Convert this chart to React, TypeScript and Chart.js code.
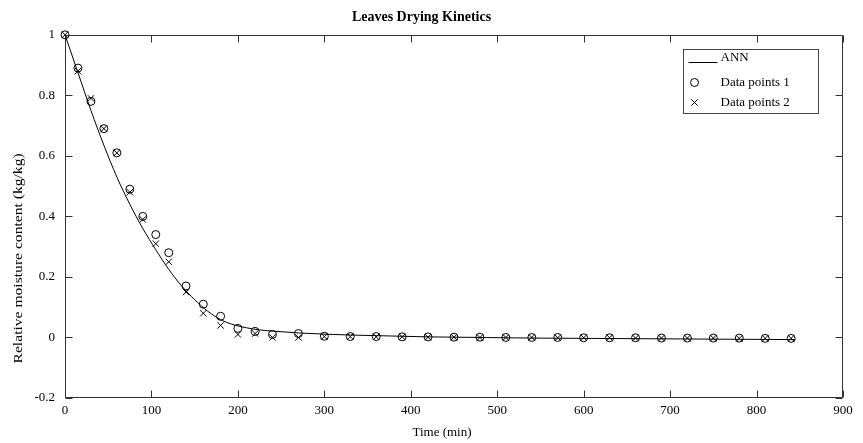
import { useEffect, useRef } from "react";
import { Chart, registerables } from "chart.js";

Chart.register(...registerables);

// Sampling times of the measured drying data (min)
const sampleTimes = [
  0, 15, 30, 45, 60, 75, 90, 105, 120, 140, 160, 180, 200, 220, 240, 270,
  300, 330, 360, 390, 420, 450, 480, 510, 540, 570, 600, 630, 660, 690, 720,
  750, 780, 810, 840,
];

// Relative moisture content, first replicate (kg/kg)
const dataPoints1 = [
  1.0, 0.89, 0.78, 0.69, 0.61, 0.49, 0.4, 0.34, 0.28, 0.17, 0.11, 0.07, 0.03,
  0.02, 0.01, 0.013, 0.004, 0.003, 0.003, 0.002, 0.002, 0.001, 0.001, 0.0,
  0.0, 0.0, -0.001, -0.001, -0.001, -0.002, -0.002, -0.002, -0.002, -0.003,
  -0.003,
];

// Relative moisture content, second replicate (kg/kg)
const dataPoints2 = [
  1.0, 0.88, 0.79, 0.69, 0.61, 0.48, 0.39, 0.31, 0.25, 0.15, 0.08, 0.04, 0.01,
  0.013, 0.0, 0.0, 0.003, 0.003, 0.002, 0.002, 0.001, 0.001, 0.0, 0.0, 0.0,
  -0.001, -0.001, -0.001, -0.002, -0.002, -0.002, -0.002, -0.003, -0.003,
  -0.003,
];

// Neural-network model prediction
const annTimes = [
  0, 15, 30, 45, 60, 75, 90, 105, 120, 135, 150, 165, 180, 195, 210, 225, 240,
  270, 300, 330, 360, 390, 420, 450, 480, 540, 600, 660, 720, 780, 845,
];
const annValues = [
  1.0, 0.875, 0.75, 0.635, 0.53, 0.44, 0.36, 0.29, 0.225, 0.17, 0.125, 0.087,
  0.059, 0.042, 0.032, 0.025, 0.021, 0.015, 0.011, 0.008, 0.006, 0.004, 0.002,
  0.001, 0.0, -0.002, -0.003, -0.004, -0.005, -0.006, -0.007,
];

const xTicks = [0, 100, 200, 300, 400, 500, 600, 700, 800, 900];
const yTicks = [-0.2, 0, 0.2, 0.4, 0.6, 0.8, 1];

const chartTitle = "Leaves Drying Kinetics";
const xTitle = "Time (min)";
const yTitle = "Relative moisture content (kg/kg)";
const seriesNames = ["ANN", "Data points 1", "Data points 2"];

const FONT = "'Liberation Serif', 'Times New Roman', serif";
const AXIS_COLOR = "#333333";
const TICK_LEN = 7;

// Boxed axes with inward tick marks on all four sides
const framePlugin = {
  id: "frame",
  beforeDatasetsDraw(chart: any) {
    const { ctx, chartArea: a, scales } = chart;
    const L = Math.round(a.left) + 0.5;
    const R = Math.round(a.right) - 0.5;
    const T = Math.round(a.top) + 0.5;
    const B = Math.round(a.bottom) - 0.5;
    ctx.save();
    ctx.strokeStyle = AXIS_COLOR;
    ctx.lineWidth = 1;
    ctx.beginPath();
    ctx.rect(L, T, R - L, B - T);
    for (const v of xTicks) {
      const px = Math.round(scales.x.getPixelForValue(v)) + 0.5;
      ctx.moveTo(px, B);
      ctx.lineTo(px, B - TICK_LEN);
      ctx.moveTo(px, T);
      ctx.lineTo(px, T + TICK_LEN);
    }
    for (const v of yTicks) {
      const py = Math.round(scales.y.getPixelForValue(v)) + 0.5;
      ctx.moveTo(L, py);
      ctx.lineTo(L + TICK_LEN, py);
      ctx.moveTo(R, py);
      ctx.lineTo(R - TICK_LEN, py);
    }
    ctx.stroke();
    ctx.restore();
  },
  afterDraw(chart: any) {
    const { ctx, chartArea: a } = chart;
    ctx.save();
    ctx.fillStyle = "#000";
    ctx.font = `13px ${FONT}`;
    ctx.textBaseline = "middle";
    ctx.textAlign = "center";
    // x axis title
    ctx.fillText(xTitle, (a.left + a.right) / 2 - 12, a.bottom + 35);
    // y axis title (rotated)
    ctx.save();
    ctx.translate(19, (a.top + a.bottom) / 2 + 42);
    ctx.rotate(-Math.PI / 2);
    ctx.scale(1.2, 1);
    ctx.fillText(yTitle, 0, 0);
    ctx.restore();

    // legend
    const bw = 135;
    const bh = 64;
    const bx = Math.round(a.right - 25 - bw) + 0.5;
    const by = Math.round(a.top + 14) + 0.5;
    ctx.fillStyle = "#fff";
    ctx.fillRect(bx, by, bw, bh);
    ctx.strokeStyle = "#444";
    ctx.lineWidth = 1;
    ctx.strokeRect(bx, by, bw, bh);
    ctx.fillStyle = "#000";
    ctx.textAlign = "left";
    const ds = chart.data.datasets;
    const rows = [8, 33, 53];
    rows.forEach((ry, i) => {
      const cy = by + ry;
      const d = ds[i];
      ctx.strokeStyle = d.borderColor;
      ctx.lineWidth = 1;
      ctx.beginPath();
      if (i === 0) {
        ctx.moveTo(bx + 5, cy + 5);
        ctx.lineTo(bx + 34, cy + 5);
      } else if (d.pointStyle === "circle") {
        ctx.arc(bx + 11, cy, 4, 0, Math.PI * 2);
      } else {
        const r = 3.2;
        ctx.moveTo(bx + 11 - r, cy - r);
        ctx.lineTo(bx + 11 + r, cy + r);
        ctx.moveTo(bx + 11 - r, cy + r);
        ctx.lineTo(bx + 11 + r, cy - r);
      }
      ctx.stroke();
      ctx.fillText(d.label, bx + 37, cy);
    });
    ctx.restore();
  },
};

export default function App() {
  const canvasRef = useRef<HTMLCanvasElement | null>(null);

  useEffect(() => {
    document.body.style.margin = "0";
    const canvas = canvasRef.current;
    if (!canvas) return;

    const toPoints = (xs: number[], ys: number[]) =>
      xs.map((x, i) => ({ x, y: ys[i] }));

    const chart = new Chart(canvas, {
      type: "scatter",
      data: {
        datasets: [
          {
            label: seriesNames[0],
            data: toPoints(annTimes, annValues),
            showLine: true,
            borderColor: "#000",
            borderWidth: 1,
            pointRadius: 0,
            cubicInterpolationMode: "monotone",
            clip: false,
          },
          {
            label: seriesNames[1],
            data: toPoints(sampleTimes, dataPoints1),
            pointStyle: "circle",
            pointRadius: 4,
            borderColor: "#000",
            backgroundColor: "rgba(0,0,0,0)",
            borderWidth: 1,
            clip: false,
          },
          {
            label: seriesNames[2],
            data: toPoints(sampleTimes, dataPoints2),
            pointStyle: "crossRot",
            pointRadius: 4.5,
            borderColor: "#000",
            backgroundColor: "rgba(0,0,0,0)",
            borderWidth: 1,
            clip: false,
          },
        ],
      },
      options: {
        responsive: false,
        animation: false,
        layout: { padding: { right: 20, left: 0, bottom: 0, top: 0 } },
        plugins: {
          legend: { display: false },
          tooltip: { enabled: false },
          title: {
            display: true,
            text: chartTitle,
            color: "#000",
            font: { family: FONT, size: 14, weight: "bold" },
            padding: { top: 9, bottom: 9 },
          },
        },
        scales: {
          x: {
            type: "linear",
            min: 0,
            max: 900,
            grid: { display: false, drawTicks: false },
            border: { display: false },
            ticks: {
              color: "#000",
              font: { family: FONT, size: 13 },
              padding: 5,
              maxRotation: 0,
            },
            afterBuildTicks: (s: any) => {
              s.ticks = xTicks.map((v) => ({ value: v }));
            },
            afterFit: (s: any) => {
              s.height = 45;
            },
          },
          y: {
            type: "linear",
            min: -0.2,
            max: 1,
            grid: { display: false, drawTicks: false },
            border: { display: false },
            ticks: {
              color: "#000",
              font: { family: FONT, size: 13 },
              padding: 10,
              callback: (v: any) => `${Math.round(Number(v) * 10) / 10}`,
            },
            afterBuildTicks: (s: any) => {
              s.ticks = yTicks.map((v) => ({ value: v }));
            },
            afterFit: (s: any) => {
              s.width = 65;
            },
          },
        },
      },
      plugins: [framePlugin],
    });

    return () => chart.destroy();
  }, []);

  return (
    <div style={{ width: 863, height: 443 }}>
      <canvas ref={canvasRef} width={863} height={443} />
    </div>
  );
}
